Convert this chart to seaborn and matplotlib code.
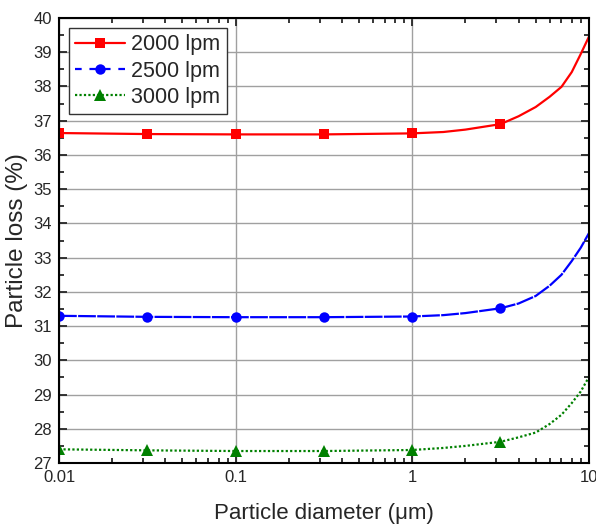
import numpy as np
import pandas as pd
import seaborn as sns
import matplotlib.pyplot as plt
from matplotlib.ticker import FixedLocator, FuncFormatter, LogLocator, MultipleLocator

# valores (curva + marcadores)
diametro = [0.01, 0.0316, 0.1, 0.316, 1, 1.5, 2, 3.16, 4, 5, 6, 7, 8, 9, 10]
perda_2000 = [36.64, 36.61, 36.60, 36.60, 36.63, 36.67, 36.74, 36.90, 37.13, 37.40, 37.70, 37.99, 38.42, 38.95, 39.45]
perda_2500 = [31.30, 31.27, 31.26, 31.26, 31.28, 31.32, 31.38, 31.52, 31.66, 31.88, 32.18, 32.50, 32.90, 33.29, 33.71]
perda_3000 = [27.40, 27.37, 27.35, 27.35, 27.38, 27.44, 27.50, 27.62, 27.75, 27.89, 28.14, 28.41, 28.75, 29.09, 29.51]
idx_marcadores = [0, 1, 2, 3, 4, 7]

sns.set_style("ticks")
plt.rcParams['font.family'] = ['Liberation Sans', 'DejaVu Sans']
plt.rcParams['xtick.direction'] = 'in'
plt.rcParams['ytick.direction'] = 'in'

fig = plt.figure(figsize=(5.96, 5.30), dpi=100)
ax = fig.add_axes([0.099, 0.1264, 0.889, 0.8396])

sns.lineplot(x=diametro, y=perda_2000, color='#ff0000', lw=1.6, marker='s', markersize=7,
             markeredgewidth=0, markevery=idx_marcadores, label='2000 lpm', ax=ax)
sns.lineplot(x=diametro, y=perda_2500, color='#0000ff', lw=1.6, marker='o', markersize=7.5,
             markeredgewidth=0, markevery=idx_marcadores, dashes=(8, 0.6), label='2500 lpm', ax=ax)
sns.lineplot(x=diametro, y=perda_3000, color='#008000', lw=1.6, marker='^', markersize=8,
             markeredgewidth=0, markevery=idx_marcadores, dashes=(1, 1), label='3000 lpm', ax=ax)

ax.set_xscale('log')
ax.set_xlim(0.01, 10)
ax.set_ylim(27, 40)
ax.xaxis.set_major_locator(FixedLocator([0.01, 0.1, 1, 10]))
ax.xaxis.set_major_formatter(FuncFormatter(lambda v, p: f'{v:g}'))
ax.xaxis.set_minor_locator(LogLocator(base=10, subs=np.arange(2, 10)))
ax.yaxis.set_major_locator(MultipleLocator(1))
ax.yaxis.set_minor_locator(MultipleLocator(0.5))

ax.grid(True, which='major', color='#a0a0a0', lw=1)
ax.set_axisbelow(True)
ax.tick_params(which='both', top=True, right=True, labelsize=12, width=1.3, pad=5)
ax.tick_params(which='major', length=6)
ax.tick_params(which='minor', length=3.5)
for s in ax.spines.values():
    s.set_linewidth(1.5)
    s.set_color('black')

ax.set_xlabel('Particle diameter (μm)', fontsize=16, labelpad=13)
ax.set_ylabel('Particle loss (%)', fontsize=17.5, labelpad=4)

leg = ax.legend(loc='upper left', fontsize=15.5, frameon=True, fancybox=False,
                edgecolor='#333333', handlelength=2.3, borderaxespad=0.45,
                labelspacing=0.25, handletextpad=0.3, borderpad=0.3)
leg.get_frame().set_linewidth(1.0)
leg.get_frame().set_alpha(1)
# no reference a legenda do 2500 mostra traço mais aberto
leg.get_lines()[1].set_dashes((3, 3.5))

fig.savefig('out.png', dpi=100)
